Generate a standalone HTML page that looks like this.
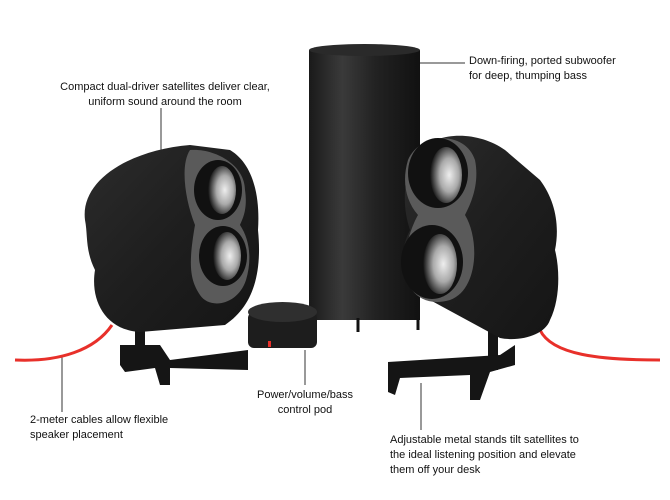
<!DOCTYPE html>
<html><head><meta charset="utf-8"><style>
html,body{margin:0;padding:0;background:#fff;}
.w{position:relative;width:670px;height:500px;overflow:hidden;font-family:"Liberation Sans",Arial,sans-serif;font-size:11px;color:#111;}
.t{position:absolute;line-height:15px;white-space:nowrap;}
</style></head><body><div class="w">
<svg width="670" height="500" style="position:absolute;left:0;top:0">
<defs>
<linearGradient id="cyl" x1="0" x2="1"><stop offset="0" stop-color="#1a1a1a"/><stop offset=".3" stop-color="#3a3a3a"/><stop offset=".6" stop-color="#222"/><stop offset="1" stop-color="#111"/></linearGradient>
<linearGradient id="body" x1="0" y1="0" x2="1" y2="1"><stop offset="0" stop-color="#2c2c2c"/><stop offset=".5" stop-color="#1e1e1e"/><stop offset="1" stop-color="#151515"/></linearGradient>
<radialGradient id="cone" cx=".6" cy=".5" r=".6"><stop offset="0" stop-color="#eee"/><stop offset=".5" stop-color="#aaa"/><stop offset="1" stop-color="#111"/></radialGradient>
</defs>
<!-- leader lines -->
<g stroke="#333" stroke-width="1" fill="none">
<line x1="161" y1="108" x2="161" y2="150"/>
<line x1="420" y1="63" x2="465" y2="63"/>
<line x1="62" y1="355" x2="62" y2="412"/>
<line x1="305" y1="350" x2="305" y2="385"/>
<line x1="421" y1="383" x2="421" y2="430"/>
</g>
<!-- cables -->
<path d="M15 360 C60 362 95 350 112 325" stroke="#e8302a" stroke-width="3" fill="none"/>
<path d="M540 330 C552 355 600 360 660 360" stroke="#e8302a" stroke-width="3" fill="none"/>
<!-- subwoofer -->
<rect x="309" y="50" width="111" height="270" fill="url(#cyl)"/>
<ellipse cx="364.5" cy="50" rx="55.5" ry="6" fill="#2a2a2a"/>
<path d="M310 318 L310 330 M418 318 L418 330 M358 318 L358 332" stroke="#111" stroke-width="3"/>
<!-- pod -->
<rect x="248" y="312" width="69" height="36" rx="6" fill="#1d1d1d"/>
<ellipse cx="282.5" cy="312" rx="34.5" ry="10" fill="#2f2f2f"/>
<rect x="268" y="341" width="3" height="6" fill="#e8302a"/>
<!-- left stand -->
<g fill="#151515">
<rect x="135" y="300" width="10" height="45"/>
<polygon points="120,345 160,345 170,360 248,350 248,370 170,368 170,385 160,385 155,368 125,372 120,365"/>
</g>
<!-- left speaker -->
<path d="M85 220 C80 180 130 150 190 145 L230 150 C255 165 260 200 258 230 C262 270 255 305 225 325 L140 332 C105 330 90 300 95 270 C85 250 88 235 85 220 Z" fill="url(#body)"/>
<path d="M190 150 C215 148 245 165 245 190 C248 210 242 220 240 225 C250 240 252 260 246 280 C238 305 210 310 200 295 C190 280 188 265 195 225 C185 200 180 165 190 150 Z" fill="#5a5a5a"/>
<ellipse cx="218" cy="190" rx="24" ry="30" fill="#111"/><ellipse cx="222" cy="190" rx="14" ry="24" fill="url(#cone)"/>
<ellipse cx="223" cy="256" rx="24" ry="30" fill="#111"/><ellipse cx="227" cy="256" rx="14" ry="24" fill="url(#cone)"/>
<!-- right stand -->
<g fill="#151515">
<rect x="488" y="330" width="10" height="40"/>
<polygon points="388,362 500,355 515,345 515,365 490,372 480,400 470,400 470,375 400,378 395,395 388,392"/>
</g>
<!-- right speaker -->
<path d="M420 150 C440 130 480 132 505 150 L540 180 C555 200 560 225 555 250 C560 270 560 300 550 320 C545 335 520 342 500 338 L430 300 C405 285 395 260 410 230 C400 200 405 170 420 150 Z" fill="url(#body)"/>
<path d="M408 160 C420 132 465 130 475 160 C480 185 470 205 465 215 C480 240 478 290 450 300 C415 310 400 280 405 255 C408 235 415 220 418 215 C405 200 402 180 408 160 Z" fill="#5a5a5a"/>
<ellipse cx="438" cy="173" rx="30" ry="35" fill="#111"/><ellipse cx="446" cy="175" rx="16" ry="28" fill="url(#cone)"/>
<ellipse cx="432" cy="262" rx="31" ry="37" fill="#111"/><ellipse cx="440" cy="264" rx="17" ry="30" fill="url(#cone)"/>
</svg>
<div class="t" style="left:60px;top:80px;width:210px;text-align:center">Compact dual-driver satellites deliver clear,<br>uniform sound around the room</div>
<div class="t" style="left:469px;top:54px">Down-firing, ported subwoofer<br>for deep, thumping bass</div>
<div class="t" style="left:30px;top:413px">2-meter cables allow flexible<br>speaker placement</div>
<div class="t" style="left:250px;top:388px;width:110px;text-align:center">Power/volume/bass<br>control pod</div>
<div class="t" style="left:390px;top:433px">Adjustable metal stands tilt satellites to<br>the ideal listening position and elevate<br>them off your desk</div>
</div></body></html>
